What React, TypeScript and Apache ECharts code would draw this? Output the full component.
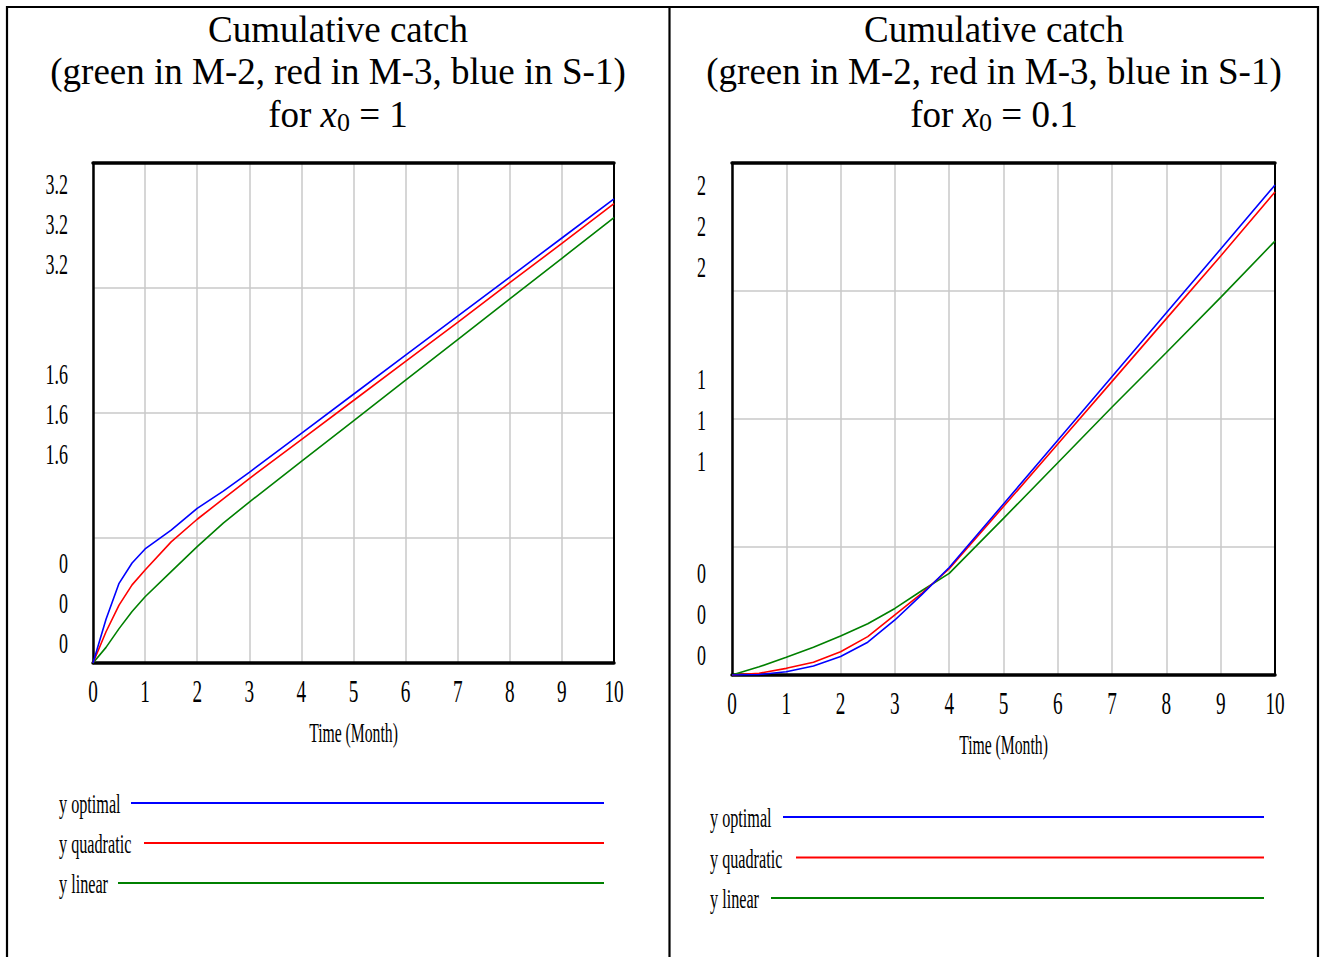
import React, { useEffect, useRef } from 'react';
import * as echarts from 'echarts';

// ---------- data ----------
const xTicks = [0, 1, 2, 3, 4, 5, 6, 7, 8, 9, 10];
const seriesNames = ['y optimal', 'y quadratic', 'y linear'];
const seriesColors = ['#0000ff', '#ff0000', '#008000'];

const tLeft = [0, 0.25, 0.5, 0.75, 1, 1.5, 2, 2.5, 3, 4, 5, 6, 7, 8, 9, 10];
const leftOptimal = [0, 0.28, 0.51, 0.64, 0.73, 0.85, 0.99, 1.1, 1.22, 1.47, 1.72, 1.97, 2.22, 2.47, 2.72, 2.97];
const leftQuadratic = [0, 0.2, 0.37, 0.5, 0.595, 0.775, 0.92, 1.05, 1.18, 1.43, 1.68, 1.93, 2.18, 2.435, 2.685, 2.94];
const leftLinear = [0, 0.1, 0.22, 0.33, 0.424, 0.585, 0.745, 0.895, 1.03, 1.29, 1.55, 1.81, 2.07, 2.33, 2.59, 2.85];
const leftYLabels = ['3.2', '1.6', '0'];
const leftMax = 3.2;

const tRight = [0, 0.5, 1, 1.5, 2, 2.5, 3, 3.5, 4, 5, 6, 7, 8, 9, 10];
const rightOptimal = [0, 0.002, 0.013, 0.035, 0.072, 0.128, 0.215, 0.315, 0.42, 0.668, 0.917, 1.166, 1.415, 1.664, 1.914];
const rightQuadratic = [0, 0.007, 0.026, 0.05, 0.091, 0.15, 0.235, 0.32, 0.415, 0.658, 0.902, 1.147, 1.392, 1.637, 1.887];
const rightLinear = [0, 0.032, 0.069, 0.108, 0.152, 0.2, 0.26, 0.33, 0.397, 0.612, 0.829, 1.047, 1.26, 1.475, 1.695];
const rightYLabels = ['2', '1', '0'];
const rightMax = 2;

const titleLine1 = 'Cumulative catch';
const titleLine2 = '(green in M-2, red in M-3, blue in S-1)';
const x0Values = ['1', '0.1'];
const xAxisName = 'Time (Month)';

const FONT = '"Liberation Serif", "Times New Roman", serif';

export default function App() {
  const ref = useRef<HTMLDivElement>(null);

  useEffect(() => {
    document.body.style.margin = '0';
    const chart = echarts.init(ref.current!, null, { renderer: 'svg' });

    const grids = [
      { left: 93, top: 163, width: 521, height: 500 },
      { left: 732, top: 163, width: 543, height: 512 },
    ];
    const panels = [
      {
        t: tLeft, ys: [leftOptimal, leftQuadratic, leftLinear], max: leftMax, yLabels: leftYLabels,
        x0: x0Values[0], center: 338, yLabelRight: 68, xLabelOffset: 29, nameOffset: 70,
        legendX: 59, legendY: 803, legendStep: 40, legendEnd: 604, lineStarts: [131, 144, 118],
      },
      {
        t: tRight, ys: [rightOptimal, rightQuadratic, rightLinear], max: rightMax, yLabels: rightYLabels,
        x0: x0Values[1], center: 994, yLabelRight: 706, xLabelOffset: 29, nameOffset: 70,
        legendX: 710, legendY: 817, legendStep: 40.5, legendEnd: 1264, lineStarts: [783, 796, 771],
      },
    ];

    const xAxis: any[] = [];
    const yAxis: any[] = [];
    const series: any[] = [];
    panels.forEach((p, i) => {
      xAxis.push({
        gridIndex: i, type: 'value', min: 0, max: 10, interval: 1,
        axisLine: { show: true, onZero: false, lineStyle: { color: '#000', width: 3.5 } },
        axisTick: { show: false }, axisLabel: { show: false },
        splitLine: { show: true, lineStyle: { color: '#c8c8c8', width: 1.5 } },
      });
      xAxis.push({
        gridIndex: i, type: 'value', min: 0, max: 10, position: 'top',
        axisLine: { show: true, onZero: false, lineStyle: { color: '#000', width: 3.5 } },
        axisTick: { show: false }, axisLabel: { show: false }, splitLine: { show: false },
      });
      yAxis.push({
        gridIndex: i, type: 'value', min: 0, max: p.max, interval: p.max / 4,
        axisLine: { show: true, onZero: false, lineStyle: { color: '#000', width: 2.5 } },
        axisTick: { show: false }, axisLabel: { show: false },
        splitLine: { show: true, lineStyle: { color: '#c8c8c8', width: 1.5 } },
      });
      yAxis.push({
        gridIndex: i, type: 'value', min: 0, max: p.max, position: 'right',
        axisLine: { show: true, onZero: false, lineStyle: { color: '#000', width: 2 } },
        axisTick: { show: false }, axisLabel: { show: false }, splitLine: { show: false },
      });
      [2, 1, 0].forEach((k) => {
        series.push({
          type: 'line', name: seriesNames[k] + (i === 0 ? '' : ' '),
          xAxisIndex: 2 * i, yAxisIndex: 2 * i,
          showSymbol: false, symbol: 'none', silent: true,
          lineStyle: { color: seriesColors[k], width: 1.6 },
          itemStyle: { color: seriesColors[k] },
          data: p.t.map((x, j) => [x, p.ys[k][j]]),
        });
      });
    });

    chart.setOption({
      animation: false,
      backgroundColor: '#fff',
      grid: grids.map((g) => ({ ...g, containLabel: false })),
      xAxis, yAxis, series,
    });

    const graphic: any[] = [];
    const border = (x1: number, y1: number, x2: number, y2: number) => ({
      type: 'line', silent: true,
      shape: { x1, y1, x2, y2 },
      style: { stroke: '#000', lineWidth: 2.2 },
    });
    graphic.push(border(6, 7, 1319, 7));
    graphic.push(border(7, 6, 7, 957));
    graphic.push(border(669.5, 6, 669.5, 957));
    graphic.push(border(1318, 6, 1318, 957));

    const richBase = { fontFamily: FONT, fontSize: 37, lineHeight: 42.5, fill: '#000' };

    panels.forEach((p, i) => {
      const g = grids[i];
      graphic.push({
        type: 'text', silent: true, x: p.center, y: 8,
        style: {
          text: `${titleLine1}\n${titleLine2}\n{a|for }{i|x}{s|0}{a| = ${p.x0}}`,
          ...richBase,
          align: 'center', verticalAlign: 'top',
          rich: {
            a: { ...richBase },
            i: { ...richBase, fontStyle: 'italic' },
            s: { fontFamily: FONT, fontSize: 26, lineHeight: 26, verticalAlign: 'bottom', fill: '#000' },
          },
        },
      });
      p.yLabels.forEach((lab, li) => {
        const c = g.top + g.height * (0.122 + 0.379 * li);
        [-1, 0, 1].forEach((d) => {
          graphic.push({
            type: 'text', silent: true, x: p.yLabelRight, y: c + d * g.height * 0.08, scaleX: 0.6,
            style: { text: lab, fontFamily: FONT, fontSize: 30, fill: '#000', align: 'right', verticalAlign: 'middle' },
          });
        });
      });
      xTicks.forEach((v) => {
        const px = chart.convertToPixel({ xAxisIndex: 2 * i }, v) as number;
        graphic.push({
          type: 'text', silent: true, x: px, y: g.top + g.height + p.xLabelOffset, scaleX: 0.62,
          style: { text: String(v), fontFamily: FONT, fontSize: 31, fill: '#000', align: 'center', verticalAlign: 'middle' },
        });
      });
      graphic.push({
        type: 'text', silent: true, x: g.left + g.width / 2, y: g.top + g.height + p.nameOffset, scaleX: 0.56,
        style: { text: xAxisName, fontFamily: FONT, fontSize: 28, fill: '#000', align: 'center', verticalAlign: 'middle' },
      });
      seriesNames.forEach((nm, k) => {
        const y = p.legendY + k * p.legendStep;
        graphic.push({
          type: 'text', silent: true, x: p.legendX, y: y + 1, scaleX: 0.6,
          style: { text: nm, fontFamily: FONT, fontSize: 27, fill: '#000', align: 'left', verticalAlign: 'middle' },
        });
        graphic.push({
          type: 'line', silent: true,
          shape: { x1: p.lineStarts[k], y1: y, x2: p.legendEnd, y2: y },
          style: { stroke: seriesColors[k], lineWidth: 2 },
        });
      });
    });

    chart.setOption({ graphic });

    return () => {
      chart.dispose();
    };
  }, []);

  return <div ref={ref} style={{ width: 1320, height: 957 }} />;
}
